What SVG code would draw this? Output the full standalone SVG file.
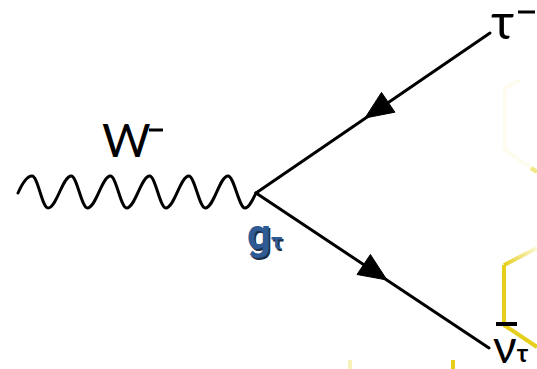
<svg xmlns="http://www.w3.org/2000/svg" width="537" height="369" viewBox="0 0 537 369">
  <defs>
    <linearGradient id="fadeUp" x1="504" y1="265" x2="537" y2="248" gradientUnits="userSpaceOnUse">
      <stop offset="0" stop-color="#e6cf1a" stop-opacity="1"/>
      <stop offset="1" stop-color="#e6cf1a" stop-opacity="0.15"/>
    </linearGradient>
  </defs>
  <style>
    .line { fill: none; stroke: #000; stroke-width: 3; stroke-linecap: round; stroke-linejoin: round; }
    .arrow { fill: #000; stroke: #000; stroke-width: 1; stroke-linejoin: round; }
    .lbl { font-family: Lato, "Open Sans", "Liberation Sans", sans-serif; fill: #000; }
    .blue { font-family: Roboto, Inter, "Liberation Sans", sans-serif; fill: #2e5b93; font-weight: 700; }
    .shadow { font-family: Roboto, Inter, "Liberation Sans", sans-serif; fill: #1c2f4a; font-weight: 700; }
    .yel { fill: none; stroke: #e6cf1a; stroke-width: 4; }
  </style>
  <rect width="537" height="369" fill="#fff"/>

  <g id="background-artifacts">
    <path class="yel" d="M504,325 L504,265" />
    <path d="M504,265 L537,248" fill="none" stroke="url(#fadeUp)" stroke-width="4"/>
    <path class="yel" d="M504,325 L537,347" />
    <path class="yel" d="M453,360 L453,369" />
    <path class="yel" d="M350,360 L350,369" opacity="0.3"/>
    <path class="yel" d="M520,80 L505,88 L505,150 L537,172" opacity="0.07"/>
    <path class="yel" d="M531,168 L537,172" opacity="0.5"/>
  </g>

  <g id="connectors">
    <path id="w-boson" class="line" d="M18,193 C22,184 27,176 32,176 C38,176 42,208 48,208 C56.6,208 62.6,176 71.2,176 C77,176 81.6,208 87.4,208 C96,208 102,176 110.4,176 C116.2,176 120.8,208 126.6,208 C135.2,208 141.2,176 149.6,176 C155.4,176 160,208 165.8,208 C174.4,208 180.4,176 188.8,176 C194.6,176 199.4,208 205.2,208 C214,208 219.6,176 228,176 C234,176 239,208 245,208 C249,208 253,199 256,193" />
    <path id="tau-line" class="line" d="M256,193 L490,33" />
    <path id="nu-line" class="line" d="M256,193 L489,348" />
    <polygon class="arrow" points="365,118 394.9,112.2 381.5,92.4" />
    <polygon class="arrow" points="387,280 357,274.5 370.4,254.5" />
  </g>

  <g id="label-W">
    <text class="lbl" x="102" y="157" font-size="47">W</text>
    <rect x="149" y="128.5" width="14" height="3" fill="#000"/>
  </g>

  <g id="label-tau">
    <text class="lbl" x="491" y="39" font-size="50">τ</text>
    <rect x="518" y="10.5" width="17" height="3" fill="#000"/>
  </g>

  <g id="label-nu">
    <rect x="496" y="322" width="21" height="4" fill="#000"/>
    <text class="lbl" x="493" y="363" font-size="46">ν<tspan font-size="24" font-weight="700" dy="-1">τ</tspan></text>
  </g>

  <g id="label-g">
    <text class="shadow" x="248.5" y="250.5" font-size="42">g<tspan font-size="22">τ</tspan></text>
    <text class="blue" x="247" y="249" font-size="42">g<tspan font-size="22">τ</tspan></text>
  </g>
</svg>
